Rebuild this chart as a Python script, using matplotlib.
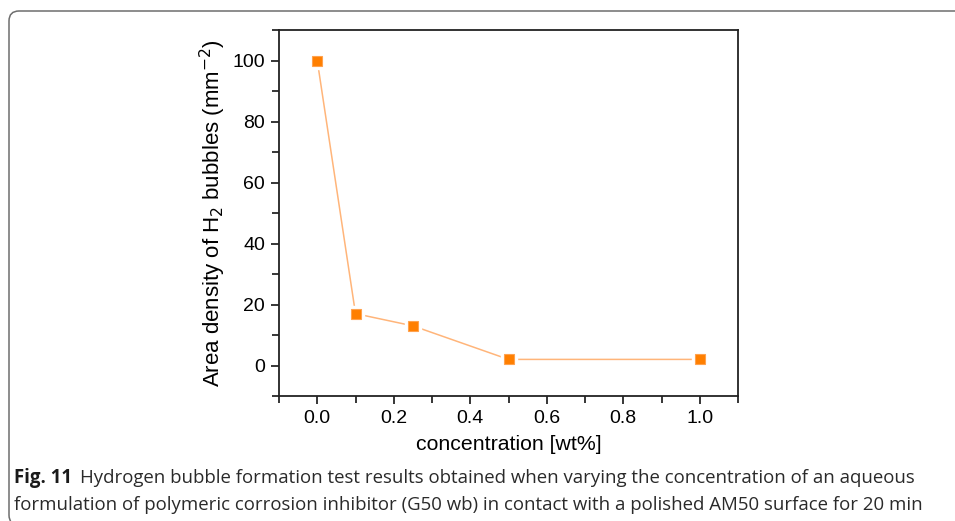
import matplotlib
matplotlib.use('Agg')
import matplotlib.pyplot as plt
from matplotlib.patches import FancyBboxPatch
from matplotlib.ticker import MultipleLocator
from matplotlib.transforms import IdentityTransform

# data
conc = [0.0, 0.1, 0.25, 0.5, 1.0]
density = [100, 17, 13, 2, 2]

x_ticks = [0.0, 0.2, 0.4, 0.6, 0.8, 1.0]
y_ticks = [0, 20, 40, 60, 80, 100]

caption_bold = 'Fig. 11'
caption_1 = ('Hydrogen bubble formation test results obtained when varying '
             'the concentration of an aqueous')
caption_2 = ('formulation of polymeric corrosion inhibitor (G50 wb) in contact '
             'with a polished AM50 surface for 20 min')

plt.rcParams['font.family'] = ['Liberation Sans', 'DejaVu Sans']

W, H = 955, 521
fig = plt.figure(figsize=(W / 100, H / 100), dpi=100)

# rounded frame around the figure (top and left edges visible)
frame = FancyBboxPatch((9, -4), 1000, H - 11 + 4,
                       boxstyle='round,pad=0,rounding_size=10',
                       transform=IdentityTransform(), facecolor='none',
                       edgecolor='#6e6e6e', linewidth=1.1)
fig.patches.append(frame)

ax = fig.add_axes([279 / W, 1 - 396 / H, (738 - 279) / W, (396 - 30) / H])

ax.plot(conc, density, color='#ffb57a', linewidth=1.1, zorder=2)
ax.plot(conc, density, linestyle='none', marker='s', markersize=11,
        markerfacecolor='white', markeredgecolor='white', zorder=3)
ax.plot(conc, density, linestyle='none', marker='s', markersize=7,
        markerfacecolor='#ff7f00', markeredgecolor='#ffa24d',
        markeredgewidth=0.8, zorder=4)

ax.set_xlim(-0.1, 1.1)
ax.set_ylim(-10, 110)
ax.set_xticks(x_ticks)
ax.set_xticklabels(['%.1f' % v for v in x_ticks])
ax.set_yticks(y_ticks)
ax.xaxis.set_minor_locator(MultipleLocator(0.1))
ax.yaxis.set_minor_locator(MultipleLocator(10))
ax.tick_params(which='both', direction='out', top=False, right=False,
               width=1.1, labelsize=14, pad=4)
ax.tick_params(which='major', length=6)
ax.tick_params(which='minor', length=5)
for s in ax.spines.values():
    s.set_linewidth(1.3)
    s.set_color('#222222')

ax.set_xlabel('concentration [wt%]', fontsize=15.3, labelpad=6)
ax.set_ylabel('Area density of H$_2$ bubbles (mm$^{-2}$)', fontsize=16,
              labelpad=3)

# caption
cap_font = ['Open Sans', 'DejaVu Sans']
fs = 13.4
t0 = fig.text(14 / W, 1 - 483 / H, caption_bold, fontsize=fs,
              fontweight='bold', family=cap_font, va='baseline', ha='left',
              color='#1a1a1a')
fig.canvas.draw()
bb = t0.get_window_extent()
fig.text((bb.x1 + 8) / W, 1 - 483 / H, caption_1, fontsize=fs,
         family=cap_font, va='baseline', ha='left', color='#2a2a2a')
fig.text(14 / W, 1 - 510 / H, caption_2, fontsize=fs,
         family=cap_font, va='baseline', ha='left', color='#2a2a2a')

fig.savefig('out.png', dpi=100)
